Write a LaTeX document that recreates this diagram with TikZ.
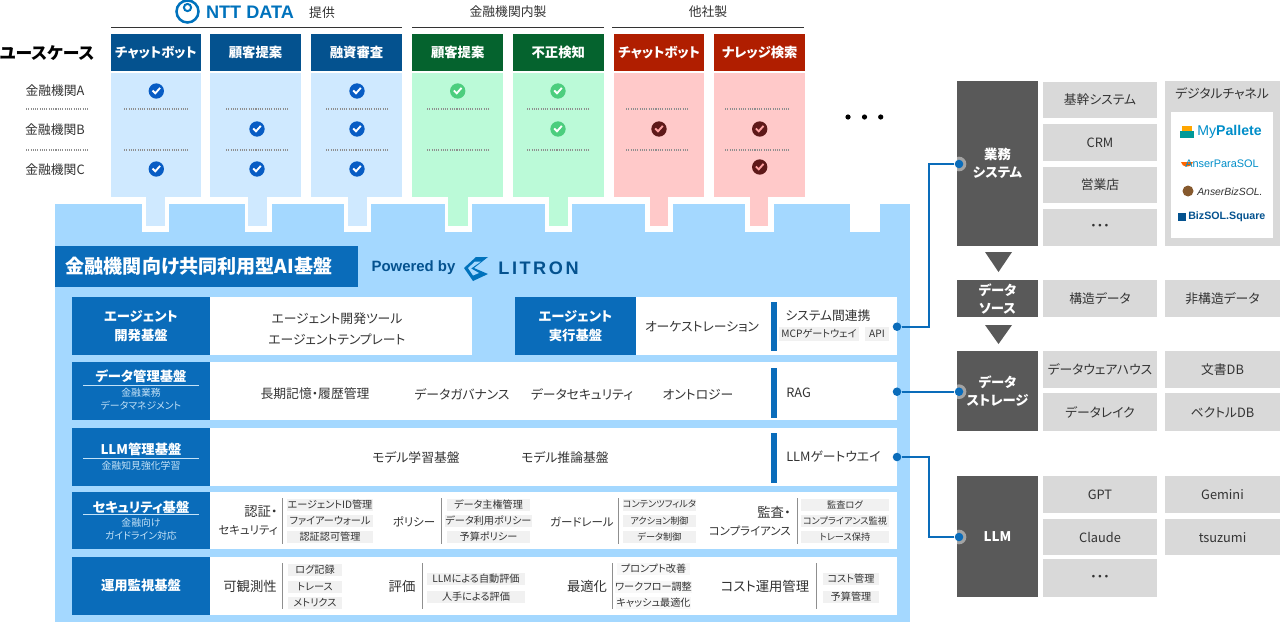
\documentclass[tikz,border=0pt]{standalone}
\usepackage{fontspec}
\usepackage{tikz}
\setmainfont{Noto Sans CJK JP}[RawFeature=+palt]
\newfontfamily\logofont[LetterSpace=14]{Liberation Sans}
\newfontfamily\latinfont{Liberation Sans}
\newcommand{\narrowkana}{\fontsize{8.6}{13.5}\selectfont}

\definecolor{navy}{HTML}{04528F}
\definecolor{forest}{HTML}{05632E}
\definecolor{crimson}{HTML}{B01E00}
\definecolor{paleblue}{HTML}{CFE9FF}
\definecolor{palegreen}{HTML}{BBFAD8}
\definecolor{palered}{HTML}{FFC9C9}
\definecolor{panelblue}{HTML}{A4D8FF}
\definecolor{baseblue}{HTML}{0A6CBA}
\definecolor{ink}{HTML}{333333}
\definecolor{slate}{HTML}{595959}
\definecolor{cellgray}{HTML}{D9D9D9}
\definecolor{taggray}{HTML}{F1F1F1}
\definecolor{rulegray}{HTML}{8F8F8F}
\definecolor{subblue}{HTML}{C4E2F7}
\definecolor{logoblue}{HTML}{0072BC}

\tikzset{
  rc/.style 2 args={rectangle,minimum width=#1*.75pt,minimum height=#2*.75pt,inner sep=0pt},
  head/.style={text=white,font=\fontsize{10}{12}\selectfont\bfseries},
  word/.style={inner sep=0pt,text=ink,font=\fontsize{9.6}{11}\selectfont},
  large/.style={inner sep=0pt,text=ink,font=\fontsize{10}{13.5}\selectfont,align=right},
  tiny/.style={text=ink,font=\fontsize{7.6}{9}\selectfont},
  slim/.style={text=ink,font=\fontsize{6.9}{9}\selectfont},
  base/.style={fill=baseblue,text=white,align=center,font=\fontsize{10}{14}\selectfont\bfseries},
  sub/.style={inner sep=0pt,text=subblue,align=center,font=\fontsize{7.4}{9.6}\selectfont},
  cell/.style={fill=cellgray,text=ink,font=\fontsize{9.6}{11}\selectfont},
  dark/.style={fill=slate,text=white,align=center,font=\fontsize{10}{13.5}\selectfont\bfseries},
  chk/.style 2 args={circle,fill=#1,minimum size=11.5pt,inner sep=0pt,
    path picture={\draw[#2,line width=1.4pt] ([shift={(-3.8,-.5)}]path picture bounding box.center) -- ++(2.8,2.8) -- ++(4.8,-5.4);}},
  dot/.style={circle,fill=baseblue,minimum size=6.4pt,inner sep=0pt},
  halo/.style={circle,fill=white,opacity=.45,minimum size=11pt,inner sep=0pt},
  link/.style={baseblue,line width=1.5pt},
  sep/.style={rulegray,line width=.8pt,dash pattern=on .8pt off .9pt},
  rulev/.style={rulegray,line width=.75pt}
}

\begin{document}
\begin{tikzpicture}[x=.75pt,y=-.75pt]
\useasboundingbox (0,0) rectangle (1280,622);

\node[rc={855}{418.5},fill=panelblue] (panel) at (482.5,412.75) {};

\node[rc={27}{30},fill=white] (notcha) at (155.5,217) {};
\node[rc={27}{30},fill=white] (notchb) at (258,217) {};
\node[rc={27}{30},fill=white] (notchc) at (357.5,217) {};
\node[rc={27}{30},fill=white] (notchd) at (458,217) {};
\node[rc={27}{30},fill=white] (notche) at (558,217) {};
\node[rc={28}{30},fill=white] (notchf) at (659,217) {};
\node[rc={29}{30},fill=white] (notchg) at (759,217) {};
\node[rc={30}{30},fill=white] (notchh) at (865,217) {};

\node[rc={18.5}{30},fill=paleblue] (taba) at (155.5,211) {};
\node[rc={18.5}{30},fill=paleblue] (tabb) at (257.5,211) {};
\node[rc={18.5}{30},fill=paleblue] (tabc) at (357.5,211) {};
\node[rc={19.5}{30},fill=palegreen] (tabd) at (458,211) {};
\node[rc={18.5}{30},fill=palegreen] (tabe) at (558.5,211) {};
\node[rc={18}{30},fill=palered] (tabf) at (659,211) {};
\node[rc={18}{30},fill=palered] (tabg) at (759,211) {};

\node[rc={90.5}{124},fill=paleblue] (bodya) at (156,135) {};
\node[rc={91}{124},fill=paleblue] (bodyb) at (255.5,135) {};
\node[rc={91}{124},fill=paleblue] (bodyc) at (356.5,135) {};
\node[rc={91.5}{124},fill=palegreen] (bodyd) at (457.7,135) {};
\node[rc={91}{124},fill=palegreen] (bodye) at (558.3,135) {};
\node[rc={90.5}{124},fill=palered] (bodyf) at (659.2,135) {};
\node[rc={90.5}{124},fill=palered] (bodyg) at (759.7,135) {};

\node[rc={90.5}{37},fill=navy,head] (heada) at (156,52.5) {チャットボット};
\node[rc={91}{37},fill=navy,head] (headb) at (255.5,52.5) {顧客提案};
\node[rc={91}{37},fill=navy,head] (headc) at (356.5,52.5) {融資審査};
\node[rc={91.5}{37},fill=forest,head] (headd) at (457.7,52.5) {顧客提案};
\node[rc={91}{37},fill=forest,head] (heade) at (558.3,52.5) {不正検知};
\node[rc={90.5}{37},fill=crimson,head] (headf) at (659.2,52.5) {チャットボット};
\node[rc={90.5}{37},fill=crimson,head] (headg) at (759.7,52.5) {ナレッジ検索};

\draw[ink,line width=.9pt] (111,27.5) -- (402,27.5);
\draw[ink,line width=.9pt] (412,27.5) -- (604,27.5);
\draw[ink,line width=.9pt] (612,27.5) -- (804,27.5);

\draw[logoblue,line width=1.9pt] (187.5,11.5) circle (11);
\draw[logoblue,line width=1.5pt] (187.5,7.5) circle (3.6);
\node[inner sep=0pt,text=logoblue,font=\fontsize{13.6}{15}\selectfont\latinfont\bfseries] (nttdata) at (250,12) {NTT DATA};
\node[word] (teikyo) at (322,13) {提供};
\node[word] (naisei) at (508,12) {金融機関内製};
\node[word] (tasha) at (708,12) {他社製};

\node[inner sep=0pt,text=black,font=\fontsize{12.6}{15}\selectfont\bfseries] (usecase) at (47,53) {ユースケース};
\node[word] (banka) at (55,91) {金融機関A};
\node[word] (bankb) at (55,130) {金融機関B};
\node[word] (bankc) at (55,170) {金融機関C};

\draw[sep] (26,109) -- (89,109);
\draw[sep] (26,150) -- (89,150);
\draw[sep] (124,109) -- (188,109);
\draw[sep] (124,150) -- (188,150);
\draw[sep] (226,109) -- (289,109);
\draw[sep] (226,150) -- (289,150);
\draw[sep] (326,109) -- (389,109);
\draw[sep] (326,150) -- (389,150);
\draw[sep] (427,109) -- (490,109);
\draw[sep] (427,150) -- (490,150);
\draw[sep] (527,109) -- (590,109);
\draw[sep] (527,150) -- (590,150);
\draw[sep] (626,109) -- (689,109);
\draw[sep] (626,150) -- (689,150);
\draw[sep] (725,109) -- (789,109);
\draw[sep] (725,150) -- (789,150);

\node[chk={baseblue!85!blue}{white}] (checkaa) at (156.3,91) {};
\node[chk={baseblue!85!blue}{white}] (checkac) at (156.3,169) {};
\node[chk={baseblue!85!blue}{white}] (checkbb) at (257,129) {};
\node[chk={baseblue!85!blue}{white}] (checkbc) at (257,169) {};
\node[chk={baseblue!85!blue}{white}] (checkca) at (357,91) {};
\node[chk={baseblue!85!blue}{white}] (checkcb) at (357,129) {};
\node[chk={baseblue!85!blue}{white}] (checkcc) at (357,169) {};
\node[chk={green!45!teal!70}{white}] (checkda) at (457.7,91) {};
\node[chk={green!45!teal!70}{white}] (checkea) at (558,91) {};
\node[chk={green!45!teal!70}{white}] (checkeb) at (558,129) {};
\node[chk={red!30!black!90}{palered!80!red}] (checkfb) at (659,129) {};
\node[chk={red!30!black!90}{palered!80!red}] (checkgb) at (759.7,129) {};
\node[chk={red!30!black!90}{palered!80!red}] (checkgc) at (759.7,167) {};

\fill[black] (848,117) circle (2.6);
\fill[black] (864.5,117) circle (2.6);
\fill[black] (880.7,117) circle (2.6);

\node[rc={303}{41},fill=baseblue] (title) at (206.5,266.5) {};
\node[inner sep=0pt,text=white,font=\fontsize{14.3}{16}\selectfont\bfseries] (titletext) at (199,266.5) {金融機関向け共同利用型AI基盤};
\node[inner sep=0pt,text=navy,font=\fontsize{11.2}{13}\selectfont\latinfont\bfseries] (powered) at (413.5,268) {Powered by};
\fill[logoblue] (476,257) -- (488,257) -- (474,268) -- (488,274) -- (473,281) -- (464,268) -- cycle;
\fill[panelblue] (475,261.5) -- (481,261.5) -- (471,268.5) -- (479,273) -- (473,275.5) -- (468,268) -- cycle;
\node[inner sep=0pt,text=navy,font=\fontsize{13.6}{16}\selectfont\logofont\bfseries] (litron) at (538.5,268.5) {LITRON};

\node[rc={262}{58},fill=white] (devwhite) at (340.5,326) {};
\node[rc={137.5}{58},base] (devbase) at (141,326) {エージェント\\開発基盤};
\node[word] (devtool) at (337,319) {エージェント開発ツール};
\node[word] (devtemp) at (337,339) {エージェントテンプレート};

\node[rc={382}{58},fill=white] (runbox) at (706,326) {};
\node[rc={121}{58},base] (runbase) at (575.5,326) {エージェント\\実行基盤};
\node[word] (orch) at (702,327) {オーケストレーション};
\node[rc={5.7}{49.5},fill=baseblue] (barone) at (773.8,326.5) {};
\node[word] (syslink) at (828,316) {システム間連携};
\node[rc={80}{14},fill=taggray,tiny] (mcp) at (819,333.5) {MCPゲートウェイ};
\node[rc={24}{14},fill=taggray,tiny] (api) at (877,333.5) {API};
\node[dot] (sysdot) at (897,326.7) {};

\node[rc={687.5}{58},fill=white] (databox) at (553.2,391) {};
\node[rc={137.5}{58},fill=baseblue] (database) at (141,391) {};
\node[head,inner sep=0pt] (datalabel) at (141,376) {データ管理基盤};
\draw[subblue,line width=.6pt] (83,385) -- (199,385);
\node[sub] (datasub) at (141,399.5) {金融業務\\データマネジメント};
\node[word] (memory) at (315,394) {長期記憶・履歴管理};
\node[word] (govern) at (462,394) {データガバナンス};
\node[word] (secure) at (582,395) {データセキュリティ};
\node[word] (onto) at (698,395) {オントロジー};
\node[rc={5.7}{49.5},fill=baseblue] (bartwo) at (773.8,392.8) {};
\node[word,anchor=west] (rag) at (786,393) {RAG};
\node[dot] (ragdot) at (897,391.7) {};

\node[rc={687.5}{58},fill=white] (llmbox) at (553.2,456.5) {};
\node[rc={137.5}{58},fill=baseblue] (llmbase) at (141,456.5) {};
\node[head,inner sep=0pt] (llmlabel) at (141,449) {LLM管理基盤};
\draw[subblue,line width=.6pt] (83,458) -- (199,458);
\node[sub] (llmsub) at (141,466) {金融知見強化学習};
\node[word] (train) at (416,458) {モデル学習基盤};
\node[word] (infer) at (565,458) {モデル推論基盤};
\node[rc={5.7}{50},fill=baseblue] (barthree) at (773.8,458) {};
\node[word,anchor=west] (gateway) at (786,457) {LLMゲートウエイ};
\node[dot] (llmdot) at (897,457) {};

\node[rc={687.5}{57},fill=white] (secbox) at (553.2,520) {};
\node[rc={137.5}{57},fill=baseblue] (secbase) at (141,520) {};
\node[head,inner sep=0pt] (seclabel) at (141,507) {セキュリティ基盤};
\draw[subblue,line width=.6pt] (83,514.5) -- (199,514.5);
\node[sub] (secsub) at (141,529.5) {金融向け\\ガイドライン対応};

\node[large,anchor=east] (auth) at (278,521) {認証・\\\narrowkana セキュリティ};
\draw[rulev] (282.7,498) -- (282.7,544);
\node[rc={86}{12},fill=taggray,tiny] (agentid) at (330,504.5) {エージェントID管理};
\node[rc={86}{12},fill=taggray,tiny] (firewall) at (330,521) {ファイアーウォール};
\node[rc={86}{12},fill=taggray,tiny] (authz) at (330,537) {認証認可管理};
\node[large,font=\narrowkana] (policy) at (414,522) {ポリシー};
\draw[rulev] (441,498) -- (441,544);
\node[rc={83}{12},fill=taggray,tiny] (sovereign) at (488.5,504.5) {データ主権管理};
\node[rc={83}{12},fill=taggray,tiny] (usage) at (488.5,521) {データ利用ポリシー};
\node[rc={83}{12},fill=taggray,tiny] (budget) at (488.5,537) {予算ポリシー};
\node[large,font=\narrowkana] (guard) at (582,522) {ガードレール};
\draw[rulev] (618.3,498) -- (618.3,544);
\node[rc={73}{12},fill=taggray,slim] (filter) at (659.5,504.5) {コンテンツフィルタ};
\node[rc={73}{12},fill=taggray,slim] (action) at (659.5,521) {アクション制御};
\node[rc={73}{12},fill=taggray,slim] (datactl) at (659.5,537) {データ制御};
\node[large,anchor=east] (audit) at (791,521) {監査・\\\narrowkana コンプライアンス};
\draw[rulev] (797,498) -- (797,544);
\node[rc={88}{12},fill=taggray,slim] (auditlog) at (845,504.5) {監査ログ};
\node[rc={88}{12},fill=taggray,slim] (comply) at (845,521) {コンプライアンス監視};
\node[rc={88}{12},fill=taggray,slim] (trace) at (845,537) {トレース保持};

\node[rc={687.5}{58},fill=white] (opbox) at (553.2,585.5) {};
\node[rc={137.5}{58},base] (opbase) at (141,585.5) {運用監視基盤};
\node[large] (observe) at (250,586) {可観測性};
\draw[rulev] (282,563) -- (282,609);
\node[rc={54}{12},fill=taggray,tiny] (logs) at (315,570) {ログ記録};
\node[rc={54}{12},fill=taggray,tiny] (traces) at (315,587) {トレース};
\node[rc={54}{12},fill=taggray,tiny] (metrics) at (315,603) {メトリクス};
\node[large] (evalu) at (402,586) {評価};
\draw[rulev] (422,563) -- (422,609);
\node[rc={98}{12},fill=taggray,tiny] (autoeval) at (476,578.5) {LLMによる自動評価};
\node[rc={98}{12},fill=taggray,tiny] (handeval) at (476,596.5) {人手による評価};
\node[large] (optim) at (587,586) {最適化};
\draw[rulev] (612,563) -- (612,609);
\node[rc={73}{12},fill=taggray!50,tiny] (prompt) at (653.5,569) {プロンプト改善};
\node[rc={73}{12},fill=taggray!50,tiny] (workflow) at (653.5,587) {ワークフロー調整};
\node[rc={73}{12},fill=taggray!50,tiny] (cache) at (653.5,603) {キャッシュ最適化};
\node[large] (cost) at (765,586) {コスト運用管理};
\draw[rulev] (816,563) -- (816,609);
\node[rc={56}{12},fill=taggray,tiny] (costmgr) at (851,578.5) {コスト管理};
\node[rc={56}{12},fill=taggray,tiny] (budgetmgr) at (851,596.5) {予算管理};

\node[rc={80.5}{165},dark] (gyomu) at (997.5,163.5) {業務\\システム};
\node[rc={114}{36.5},cell] (core) at (1100,100) {基幹システム};
\node[rc={114}{36.5},cell] (crm) at (1100,142.5) {CRM};
\node[rc={114}{36.5},cell] (branch) at (1100,185) {営業店};
\node[rc={114}{36.5},cell] (moreone) at (1100,227.5) {・・・};

\node[rc={115}{165},fill=cellgray] (digital) at (1222.5,163.5) {};
\node[word] (digitallabel) at (1222,94) {デジタルチャネル};
\node[rc={102}{126},fill=white] (channels) at (1222,175) {};
\fill[teal!80!cyan] (1180,131) rectangle (1194,138);
\fill[orange!70!yellow] (1182,126) rectangle (1192,131);
\node[anchor=west,inner sep=0pt,text=logoblue!80!cyan,font=\fontsize{10.6}{12}\selectfont\latinfont] (pallete) at (1197,132) {My\textbf{Pallete}};
\fill[orange!80!red] (1181,162) arc (180:0:6 and 4.5) -- cycle;
\node[anchor=west,inner sep=0pt,text=logoblue!80!cyan,font=\fontsize{8.2}{10}\selectfont\latinfont] (parasol) at (1185,164) {AnserParaSOL};
\fill[brown!70!black] (1188,191) circle (5.5);
\node[anchor=west,inner sep=0pt,text=ink,font=\fontsize{7.8}{10}\selectfont\latinfont\itshape] (bizsol) at (1197,192) {AnserBizSOL.};
\fill[navy] (1178,213) rectangle (1186,221);
\node[anchor=west,inner sep=0pt,text=navy,font=\fontsize{8}{10}\selectfont\latinfont\bfseries] (square) at (1188,217) {BizSOL.Square};

\fill[slate] (985,252) -- (1012,252) -- (998.5,272) -- cycle;
\node[rc={80.5}{37},dark] (source) at (997.5,298.5) {データ\\ソース};
\node[rc={114}{37},cell] (struct) at (1100,298.5) {構造データ};
\node[rc={115}{37},cell] (unstruct) at (1222.5,298.5) {非構造データ};
\fill[slate] (985,325) -- (1012,325) -- (998.5,344) -- cycle;

\node[rc={80.5}{80},dark] (storage) at (997.5,391) {データ\\ストレージ};
\node[rc={114}{37.5},cell] (dwh) at (1100,369.7) {データウェアハウス};
\node[rc={114}{37.5},cell] (lake) at (1100,412.2) {データレイク};
\node[rc={115}{37.5},cell] (docdb) at (1222.5,369.7) {文書DB};
\node[rc={115}{37.5},cell] (vecdb) at (1222.5,412.2) {ベクトルDB};

\node[rc={80.5}{120.5},dark] (llm) at (997.5,536.3) {LLM};
\node[rc={114}{37},cell] (gpt) at (1100,494.5) {GPT};
\node[rc={114}{36.5},cell] (claude) at (1100,537.2) {Claude};
\node[rc={114}{37.5},cell] (moretwo) at (1100,578) {・・・};
\node[rc={115}{37},cell] (gemini) at (1222.5,494.5) {Gemini};
\node[rc={115}{36.5},cell] (tsuzumi) at (1222.5,537.2) {tsuzumi};

\node[halo] at (959,164) {};
\node[halo] at (959,391.7) {};
\node[halo] at (959,537) {};
\node[dot] (gyomudot) at (959,164) {};
\node[dot] (storedot) at (959,391.7) {};
\node[dot] (modeldot) at (959,537) {};
\coordinate (bendup) at (929,245);
\coordinate (benddown) at (929,497);

\draw[link] (sysdot) -| (bendup) |- (gyomudot);
\draw[link] (ragdot) -- (storedot);
\draw[link] (llmdot) -| (benddown) |- (modeldot);
\end{tikzpicture}
\end{document}
